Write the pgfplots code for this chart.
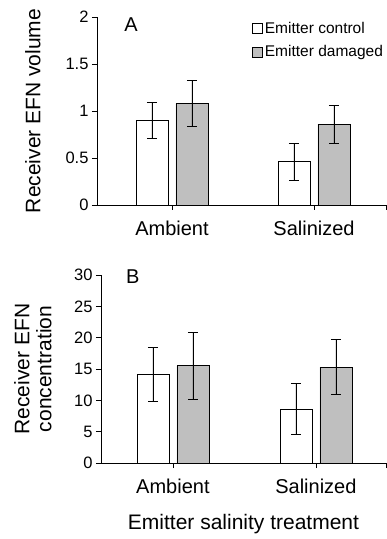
\documentclass[border=0pt]{standalone}
\usepackage{pgfplots}
\pgfplotsset{compat=1.18}
\usepackage{fontspec}
\setmainfont{Liberation Sans}
\definecolor{bargray}{RGB}{191,191,191}
\begin{document}
\begin{tikzpicture}[x=1pt,y=1pt]
\useasboundingbox (0,0) rectangle (387,539);
\pgfplotsset{
  common/.style={
    scale only axis, height=188pt,
    axis x line*=bottom, axis y line*=left,
    axis line style={-, line width=0.8pt, black},
    tick align=outside, major tick length=5pt,
    tick style={line width=0.8pt, black},
    ybar=8pt, bar width=32pt,
    xticklabels={Ambient,Salinized,{}},
    /pgf/number format/assume math mode=true,
    yticklabel style={font=\fontsize{16.5}{19}\selectfont},
    xticklabel style={font=\fontsize{20}{23}\selectfont, yshift=-7pt},
    every axis plot/.append style={draw=black, line width=0.8pt},
    legend image code/.code={\draw[##1, line width=0.8pt] (0pt,-5pt) rectangle (10pt,5pt);},
    clip=false,
  },
  errs/.style={error bars/.cd, y dir=both, y explicit,
    error bar style={line width=0.8pt, black},
    error mark options={rotate=90, mark size=5pt, line width=0.8pt, black}},
}
% Panel A
\begin{axis}[common, at={(97pt,334pt)}, anchor=south west, width=289pt,
  xmin=0.472, xmax=2.507, ymin=0, ymax=2, ytick={0,0.5,1,1.5,2},
  xtick={1,2,2.507},
  ylabel={Receiver EFN volume},
  every axis y label/.style={at={(axis description cs:-0.2215,0.5)}, rotate=90, anchor=center,
    font=\fontsize{21}{23}\selectfont},
  legend style={at={(axis description cs:0.536,0.985)}, anchor=north west, draw=none, fill=none,
    font=\fontsize{15.5}{18}\selectfont, row sep=7pt, inner sep=0pt,
    /tikz/every even column/.append style={column sep=0pt},
    nodes={inner xsep=2pt}},
  legend cell align=left]
\addplot[fill=white, errs] coordinates {(1,0.90) +- (0,0.195) (2,0.46) +- (0,0.195)};
\addplot[fill=bargray, errs] coordinates {(1,1.08) +- (0,0.247) (2,0.86) +- (0,0.20)};
\legend{Emitter control, Emitter damaged}
\node[font=\fontsize{20}{23}\selectfont, anchor=center] at (axis description cs:0.118,0.96) {A};
\end{axis}
% Panel B
\begin{axis}[common, at={(101pt,76pt)}, anchor=south west, width=285pt,
  xmin=0.497, xmax=2.49, ymin=0, ymax=30, ytick={0,5,...,30},
  xtick={1,2,2.49},
  ylabel={Receiver EFN\\concentration},
  every axis y label/.style={at={(axis description cs:-0.239,0.5)}, rotate=90, anchor=center, align=center,
    font=\fontsize{21}{22}\selectfont},
  xlabel={Emitter salinity treatment},
  every axis x label/.style={at={(axis description cs:0.5,0)}, anchor=center, yshift=-61pt,
    font=\fontsize{21}{23}\selectfont}]
\addplot[fill=white, errs] coordinates {(1,14.2) +- (0,4.3) (2,8.6) +- (0,4.07)};
\addplot[fill=bargray, errs] coordinates {(1,15.5) +- (0,5.4) (2,15.3) +- (0,4.35)};
\node[font=\fontsize{20}{23}\selectfont, anchor=center] at (axis description cs:0.112,0.99) {B};
\end{axis}
\end{tikzpicture}
\end{document}
